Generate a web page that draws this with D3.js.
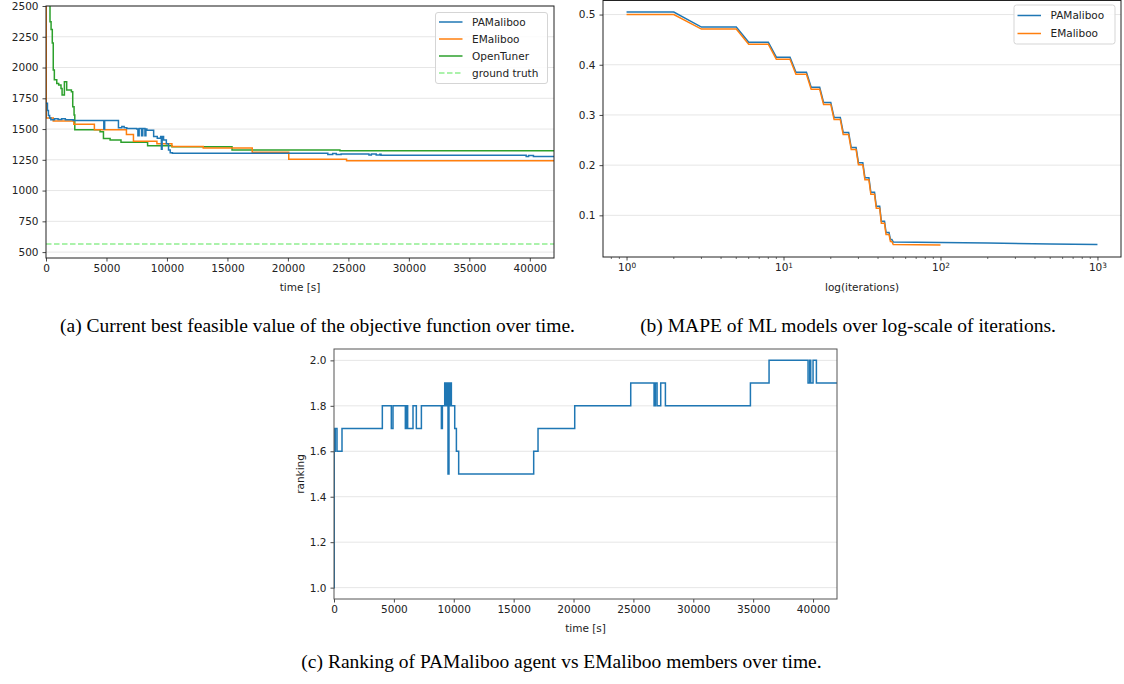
<!DOCTYPE html>
<html><head><meta charset="utf-8">
<script src="https://cdn.jsdelivr.net/npm/d3@7"></script>
<style>
body{margin:0;background:#fff}
text{font-family:"DejaVu Sans",sans-serif}
text.cap{font-family:"Liberation Serif","Times New Roman",serif}
</style>
</head><body>
<svg id="chart" width="1124" height="684"></svg>
<script>
// ---------- DATA ----------
// (a) best feasible objective value over time
const timeTicks = [0,5000,10000,15000,20000,25000,30000,35000,40000];
const objTicks = [500,750,1000,1250,1500,1750,2000,2250,2500];
const pamTime = [0,120,200,300,400,700,1000,1300,1600,2250,4780,4850,5990,6270,6460,6680,7500,7600,7700,7900,8000,8180,8260,8340,8900,9200,9480,9540,9600,9720,9950,10130,10270,10450,23300,23700,24000,24400,26700,26900,27300,27600,27700,39700,39900,40300,42000];
const pamObj  = [1710,1650,1610,1590,1575,1583,1577,1584,1576,1570,1500,1570,1510,1520,1510,1505,1500,1445,1505,1445,1505,1445,1500,1490,1440,1425,1440,1335,1440,1412,1380,1330,1308,1303,1294,1301,1294,1298,1290,1298,1290,1296,1287,1276,1286,1277,1277];
const emTime = [0,20,600,2300,4000,6650,7230,9170,10410,13000,17050,20070,24850,42000];
const emObj  = [3000,1590,1565,1540,1495,1455,1400,1380,1358,1345,1312,1254,1243,1243];
const otTime = [300,331,420,520,600,690,890,1050,1240,1330,1520,1710,2100,2210,2320,2380,4470,4750,5300,6200,8400,10410,15380,24300,42000];
const otObj  = [2700,2372,2310,2200,1980,1900,1870,1858,1830,1776,1885,1817,1803,1681,1614,1495,1478,1424,1411,1392,1364,1356,1330,1324,1324];
const groundTruth = 565;

// (b) MAPE of ML models vs iterations
const mapeTicks = [0.1,0.2,0.3,0.4,0.5];
const iterTicks = [1,10,100,1000];
const pamIter = [1,2,3,5,6,8,9,11,12,14,15,17,18,20,21,23,24,26,27,29,30,32,33,35,36,38,39,41,42,44,45,47,48,49,50,100,200,500,1000];
const pamMape = [0.505,0.505,0.475,0.475,0.445,0.445,0.415,0.415,0.385,0.385,0.355,0.355,0.325,0.325,0.295,0.295,0.265,0.265,0.235,0.235,0.205,0.205,0.175,0.175,0.146,0.146,0.118,0.118,0.088,0.088,0.066,0.066,0.052,0.052,0.047,0.046,0.045,0.043,0.042];
const emIter = [1,2,3,5,6,8,9,11,12,14,15,17,18,20,21,23,24,26,27,29,30,32,33,35,36,38,39,41,42,44,45,47,48,49,50,100];
const emMape = [0.500,0.500,0.471,0.471,0.441,0.441,0.411,0.411,0.381,0.381,0.351,0.351,0.321,0.321,0.291,0.291,0.261,0.261,0.231,0.231,0.201,0.201,0.171,0.171,0.142,0.142,0.114,0.114,0.084,0.084,0.062,0.062,0.048,0.048,0.042,0.041];

// (c) ranking over time
const rankTicks = [1.0,1.2,1.4,1.6,1.8,2.0];
const rankTime = [0,20,60,110,251,668,4036,4787,4927,5957,6070,6150,6597,6876,7297,8967,9050,9245,9300,9340,9400,9440,9520,9600,9680,9720,9800,10080,10220,10410,16674,17036,20100,24777,26725,26836,26975,27281,27672,34770,36327,39583,39722,39806,40000,40280,42000];
const rankVal  = [1.0,1.7,1.6,1.7,1.6,1.7,1.8,1.7,1.8,1.7,1.8,1.7,1.8,1.7,1.8,1.7,1.8,1.9,1.8,1.9,1.8,1.9,1.5,1.9,1.8,1.9,1.8,1.7,1.6,1.5,1.6,1.7,1.8,1.9,1.8,1.9,1.8,1.9,1.8,1.9,2.0,1.9,2.0,1.9,2.0,1.9,1.9];

const BLUE="#1f77b4", ORANGE="#ff7f0e", GREEN="#2ca02c", LGREEN="#90ee90";
const FS = 10.5;

// ---------- DRAW ----------
const svg = d3.select("#chart");
svg.append("rect").attr("width",1124).attr("height",684).attr("fill","#fff");
let clipId = 0;

function frame(box, xScale, yScale, opts){
  const g = svg.append("g");
  const id = "clip"+(clipId++);
  svg.append("clipPath").attr("id",id).append("rect")
    .attr("x",box.l).attr("y",box.t).attr("width",box.r-box.l).attr("height",box.b-box.t);
  g.append("g").selectAll("line").data(opts.yTicks).join("line")
    .attr("x1",box.l).attr("x2",box.r)
    .attr("y1",d=>yScale(d)).attr("y2",d=>yScale(d))
    .attr("stroke","#e6e6e6").attr("stroke-width",1);
  const plot = g.append("g").attr("clip-path",`url(#${id})`);
  return {g, plot};
}

function finishAxes(g, box, xAxis, yAxis, spineColor){
  const xa = g.append("g").attr("transform",`translate(0,${box.b})`).call(xAxis);
  const ya = g.append("g").attr("transform",`translate(${box.l},0)`).call(yAxis);
  [xa,ya].forEach(a=>{
    a.select(".domain").remove();
    a.selectAll("line").attr("stroke","#333").attr("stroke-width",0.9);
    a.selectAll("text").attr("font-size",FS).attr("fill","#222");
  });
  g.append("rect").attr("x",box.l).attr("y",box.t).attr("width",box.r-box.l).attr("height",box.b-box.t)
    .attr("fill","none").attr("stroke",spineColor).attr("stroke-width",1);
  return {xa,ya};
}

function legend(items, box){
  const g = svg.append("g");
  g.append("rect").attr("x",box.x).attr("y",box.y).attr("width",box.w).attr("height",box.h)
    .attr("rx",2.5).attr("fill","#fff").attr("fill-opacity",0.85).attr("stroke","#d5d5d5");
  items.forEach((it,i)=>{
    const y = box.y + box.first + i*box.step;
    g.append("line").attr("x1",box.x+3.5).attr("x2",box.x+27).attr("y1",y).attr("y2",y)
      .attr("stroke",it.color).attr("stroke-width",1.5).attr("stroke-dasharray",it.dash||null);
    g.append("text").attr("x",box.x+36.5).attr("y",y).attr("dy","0.35em")
      .attr("font-size",FS).attr("fill","#222").text(it.label);
  });
}

// ---- panel (a)
{
  const box={l:46,r:554,t:6,b:258};
  const x=d3.scaleLinear().domain([0,42000]).range([box.l,box.r]);
  const y=d3.scaleLinear().domain([452,2500]).range([box.b,box.t]);
  const {g,plot}=frame(box,x,y,{yTicks:objTicks});
  const line=(ts,vs)=>d3.line().curve(d3.curveStepAfter).x((d,i)=>x(ts[i])).y((d,i)=>y(vs[i]))(ts);
  plot.append("line").attr("x1",box.l).attr("x2",box.r).attr("y1",y(groundTruth)).attr("y2",y(groundTruth))
    .attr("stroke",LGREEN).attr("stroke-width",1.5).attr("stroke-dasharray","5.5,2.5");
  plot.append("path").attr("d",line(otTime,otObj)).attr("fill","none").attr("stroke",GREEN).attr("stroke-width",1.5);
  plot.append("path").attr("d",line(emTime,emObj)).attr("fill","none").attr("stroke",ORANGE).attr("stroke-width",1.5);
  plot.append("path").attr("d",line(pamTime,pamObj)).attr("fill","none").attr("stroke",BLUE).attr("stroke-width",1.5);
  finishAxes(g,box,
    d3.axisBottom(x).tickValues(timeTicks).tickSize(3.5).tickPadding(3.5).tickFormat(d3.format("d")),
    d3.axisLeft(y).tickValues(objTicks).tickSize(3.5).tickPadding(4).tickFormat(d3.format("d")),"#222");
  g.append("text").attr("x",(box.l+box.r)/2).attr("y",291).attr("text-anchor","middle").attr("font-size",FS).attr("fill","#222").text("time [s]");
  legend([{label:"PAMaliboo",color:BLUE},{label:"EMaliboo",color:ORANGE},{label:"OpenTuner",color:GREEN},{label:"ground truth",color:LGREEN,dash:"5.5,2.5"}],
    {x:435.5,y:12.5,w:112,h:71,first:9.5,step:17});
}

// ---- panel (b)
{
  const box={l:603,r:1121,t:0.5,b:257};
  const x=d3.scaleLog().domain([Math.pow(10,-0.15),Math.pow(10,3.15)]).range([box.l,box.r]);
  const y=d3.scaleLinear().domain([0.017,0.528]).range([box.b,box.t]);
  const {g,plot}=frame(box,x,y,{yTicks:mapeTicks});
  const line=(ts,vs)=>d3.line().x((d,i)=>x(ts[i])).y((d,i)=>y(vs[i]))(ts);
  plot.append("path").attr("d",line(pamIter,pamMape)).attr("fill","none").attr("stroke",BLUE).attr("stroke-width",1.5);
  plot.append("path").attr("d",line(emIter,emMape)).attr("fill","none").attr("stroke",ORANGE).attr("stroke-width",1.5);
  const {xa}=finishAxes(g,box,
    d3.axisBottom(x).tickValues(iterTicks).tickSize(3.5).tickPadding(3.5).tickFormat(()=>""),
    d3.axisLeft(y).tickValues(mapeTicks).tickSize(3.5).tickPadding(4).tickFormat(d3.format(".1f")),"#222");
  const minor=[];
  for(let e=-1;e<=3;e++) for(let m=2;m<=9;m++){const v=m*Math.pow(10,e); if(v>x.domain()[0]&&v<x.domain()[1]) minor.push(v);}
  g.append("g").selectAll("line").data(minor).join("line")
    .attr("x1",d=>x(d)).attr("x2",d=>x(d)).attr("y1",box.b).attr("y2",box.b+2)
    .attr("stroke","#333").attr("stroke-width",0.7);
  xa.selectAll(".tick text").each(function(d){
    const t=d3.select(this); t.text(null);
    t.append("tspan").text("10");
    t.append("tspan").attr("dy","-0.45em").attr("font-size",FS*0.7).text(Math.round(Math.log10(d)));
  });
  g.append("text").attr("x",(box.l+box.r)/2).attr("y",291).attr("text-anchor","middle").attr("font-size",FS).attr("fill","#222").text("log(iterations)");
  legend([{label:"PAMaliboo",color:BLUE},{label:"EMaliboo",color:ORANGE}],
    {x:1014,y:5,w:101,h:39,first:10.5,step:18});
}

// ---- panel (c)
{
  const box={l:334,r:837,t:349,b:599};
  const x=d3.scaleLinear().domain([0,42000]).range([box.l,box.r]);
  const y=d3.scaleLinear().domain([0.95,2.05]).range([box.b,box.t]);
  const {g,plot}=frame(box,x,y,{yTicks:rankTicks});
  const line=d3.line().curve(d3.curveStepAfter).x((d,i)=>x(rankTime[i])).y((d,i)=>y(rankVal[i]));
  plot.append("path").attr("d",line(rankTime)).attr("fill","none").attr("stroke",BLUE).attr("stroke-width",1.5);
  finishAxes(g,box,
    d3.axisBottom(x).tickValues(timeTicks).tickSize(3.5).tickPadding(3.5).tickFormat(d3.format("d")),
    d3.axisLeft(y).tickValues(rankTicks).tickSize(3.5).tickPadding(4).tickFormat(d3.format(".1f")),"#555");
  g.append("text").attr("x",(box.l+box.r)/2).attr("y",632).attr("text-anchor","middle").attr("font-size",FS).attr("fill","#222").text("time [s]");
  g.append("text").attr("transform",`translate(304,${(box.t+box.b)/2}) rotate(-90)`).attr("text-anchor","middle")
    .attr("font-size",FS).attr("fill","#222").text("ranking");
}

// ---- captions
const caps=[
  {x:317.5,y:332,t:"(a) Current best feasible value of the objective function over time."},
  {x:848,y:332,t:"(b) MAPE of ML models over log-scale of iterations."},
  {x:561.5,y:668,t:"(c) Ranking of PAMaliboo agent vs EMaliboo members over time."}
];
svg.selectAll(".cap").data(caps).join("text").attr("class","cap")
  .attr("x",d=>d.x).attr("y",d=>d.y).attr("text-anchor","middle")
  .attr("font-size",19.5).attr("fill","#000").text(d=>d.t);
</script>
</body></html>
